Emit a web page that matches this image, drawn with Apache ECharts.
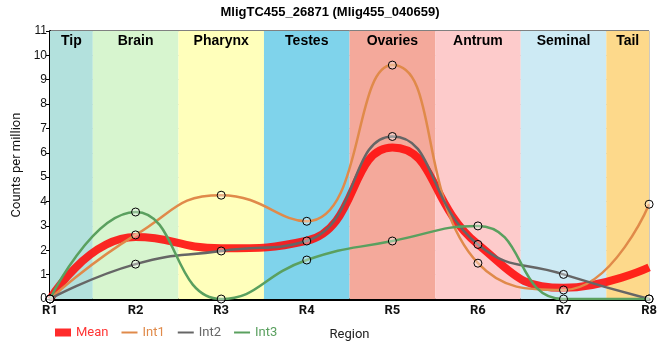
<!DOCTYPE html>
<html><head><meta charset="utf-8">
<script src="https://cdn.jsdelivr.net/npm/echarts@6/dist/echarts.min.js"></script>
<style>html,body{margin:0;padding:0;background:#fff}#c{width:660px;height:360px}</style>
</head><body><div id="c"></div>
<script>
var categories = ['R1','R2','R3','R4','R5','R6','R7','R8'];
var regions = ['Tip','Brain','Pharynx','Testes','Ovaries','Antrum','Seminal','Tail'];
var regionColors = ['#b3e1dd','#d7f5cf','#ffffbb','#7fd3eb','#f4a99b','#fdcbcb','#cdeaf4','#fdd98b'];
var int1 = [0, 2.63, 4.26, 3.19, 9.6, 1.47, 0.37, 3.89];
var int2 = [0, 1.43, 1.97, 2.38, 6.67, 2.24, 1.01, 0];
var int3 = [0, 3.57, 0, 1.6, 2.38, 3.0, 0, 0];
var mean = [0, 2.54, 2.08, 2.39, 6.22, 2.24, 0.46, 1.3];
var yTicks = [0,1,2,3,4,5,6,7,8,9,10,11];

function pts(arr){ return arr.map(function(v,i){ return [i+1, v]; }); }

var bandData = regions.map(function(r,i){
  return [{name:r, xAxis: Math.max(1, i+0.5), itemStyle:{color:regionColors[i]}}, {xAxis: Math.min(categories.length, i+1.5)}];
});

var mk = {color:'rgba(255,255,255,0.35)', borderColor:'#000', borderWidth:1};
var lineIcon = 'path://M0,0H24V3H0Z';

var chart = echarts.init(document.getElementById('c'));
chart.setOption({
  animation:false,
  title:{text:'MligTC455_26871 (Mlig455_040659)', left:'center', top:1,
    textStyle:{fontSize:13, fontWeight:'bold', color:'#000', fontFamily:'Liberation Sans'}},
  grid:{left:50, right:10, top:31, bottom:61, show:true, borderColor:'#000', borderWidth:1},
  legend:{left:50, top:321, itemGap:13, itemWidth:16, itemHeight:8,
    textStyle:{fontSize:13, fontFamily:'Roboto'},
    data:[
      {name:'Mean', icon:'rect', itemStyle:{color:'rgba(255,20,20,0.9)', borderWidth:0}, textStyle:{color:'#ff3535'}},
      {name:'Int1', icon:lineIcon, itemStyle:{color:'#e08a4a', borderWidth:0}, textStyle:{color:'#e08a4a'}},
      {name:'Int2', icon:lineIcon, itemStyle:{color:'#666666', borderWidth:0}, textStyle:{color:'#666666'}},
      {name:'Int3', icon:lineIcon, itemStyle:{color:'#5aa05f', borderWidth:0}, textStyle:{color:'#5aa05f'}}
    ]},
  xAxis:{type:'value', min:1, max:8, interval:1,
    name:'Region', nameLocation:'middle', nameGap:29,
    nameTextStyle:{fontSize:13, color:'#222', fontFamily:'Roboto'},
    axisLine:{show:true, lineStyle:{color:'#000', width:3}},
    axisTick:{show:false},
    axisLabel:{fontSize:13, fontWeight:'bold', color:'#111', margin:5, fontFamily:'Roboto',
      formatter:function(v){ return categories[v-1] || ''; }},
    splitLine:{show:true, lineStyle:{color:'#c8c8c8', width:1}}},
  yAxis:{type:'value', min:0, max:11, interval:1,
    name:'Counts per million', nameLocation:'middle', nameGap:25,
    nameTextStyle:{fontSize:13, color:'#111', fontFamily:'Roboto'},
    axisLine:{show:true, lineStyle:{color:'#000', width:2}},
    axisTick:{show:true, length:4, lineStyle:{color:'#000'}},
    axisLabel:{fontSize:12, color:'#111', margin:3, fontFamily:'Liberation Sans',
      formatter:function(v){ return yTicks.indexOf(v) >= 0 ? String(v) : ''; }},
    splitLine:{show:true, lineStyle:{color:'#c8c8c8', width:1}}},
  series:[
    {type:'line', name:'bands', data:[], silent:true, z:0,
      markArea:{silent:true, data:bandData,
        label:{show:true, position:'insideTop', distance:3, color:'#000', fontWeight:'bold', fontSize:14, fontFamily:'Liberation Sans'}}},
    {type:'line', name:'Mean', data:pts(mean), smooth:0.5, showSymbol:false, z:3,
      lineStyle:{color:'rgba(255,10,10,0.88)', width:8}, itemStyle:{color:'rgba(255,20,20,0.9)'}},
    {type:'line', name:'Int1', data:pts(int1), smooth:0.5, symbol:'circle', symbolSize:8, z:4,
      lineStyle:{color:'#e08a4a', width:2.5}, itemStyle:mk},
    {type:'line', name:'Int2', data:pts(int2), smooth:0.5, symbol:'circle', symbolSize:8, z:4,
      lineStyle:{color:'#666666', width:2.5}, itemStyle:mk},
    {type:'line', name:'Int3', data:pts(int3), smooth:0.5, symbol:'circle', symbolSize:8, z:4,
      lineStyle:{color:'#5aa05f', width:2.5}, itemStyle:mk}
  ]
});
</script></body></html>
